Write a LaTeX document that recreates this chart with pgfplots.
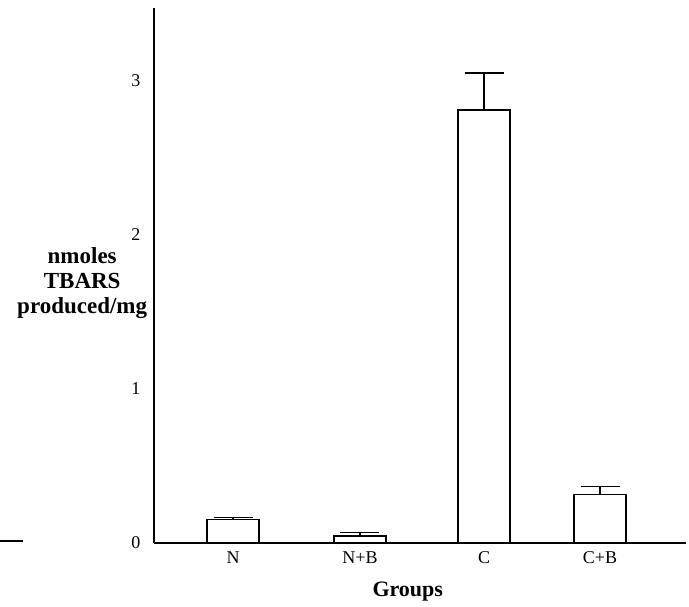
\documentclass[border=0pt]{standalone}
\usepackage{pgfplots}
\pgfplotsset{compat=1.18}
\usepackage{fontspec}
\setmainfont{Liberation Serif}
\begin{document}
\begin{tikzpicture}[x=1pt,y=1pt]
\useasboundingbox (-154,-64) rectangle (535,543);
\begin{axis}[
	at={(0,0)}, anchor=origin,
	scale only axis,
	width=532pt, height=535pt,
	xmin=0.354, xmax=4.703,
	ymin=0, ymax=3.474,
	axis x line=bottom, axis y line=left,
	axis line style={-, line width=1.3pt},
	xtick={1,2.038,3.052,4},
	xticklabels={N,N+B,C,C+B},
	ytick={0,1,2,3},
	major tick length=0pt,
	tick label style={font=\fontsize{18}{21}\selectfont},
	yticklabel style={xshift=-10pt},
	xticklabel style={yshift=-5pt},
	/pgf/number format/assume math mode=true,
	ylabel={nmoles\\TBARS\\produced/mg},
	ylabel style={rotate=-90, align=center, font=\fontsize{23}{25}\selectfont\bfseries,
		at={(axis description cs:-0.135,0.486)}, anchor=center},
	xlabel={Groups},
	xlabel style={font=\fontsize{22}{24}\selectfont\bfseries,
		at={(axis description cs:0.477,-0.0916)}, anchor=center},
	clip=false,
]
\addplot+[ybar, bar width=52pt, draw=black, fill=white, line width=1.3pt, mark=none,
	error bars/.cd, y dir=plus, y explicit,
	error bar style={line width=1.3pt, black},
	error mark options={rotate=90, mark size=19.5pt, line width=1.3pt, black}]
	coordinates {
	(1,0.154) +- (0,0.010)
	(2.038,0.045) +- (0,0.024)
	(3.052,2.812) +- (0,0.240)
	(4,0.316) +- (0,0.050)
	};
\end{axis}
\draw[line width=1.3pt] (-154,2) -- (-131,2);
\end{tikzpicture}
\end{document}
